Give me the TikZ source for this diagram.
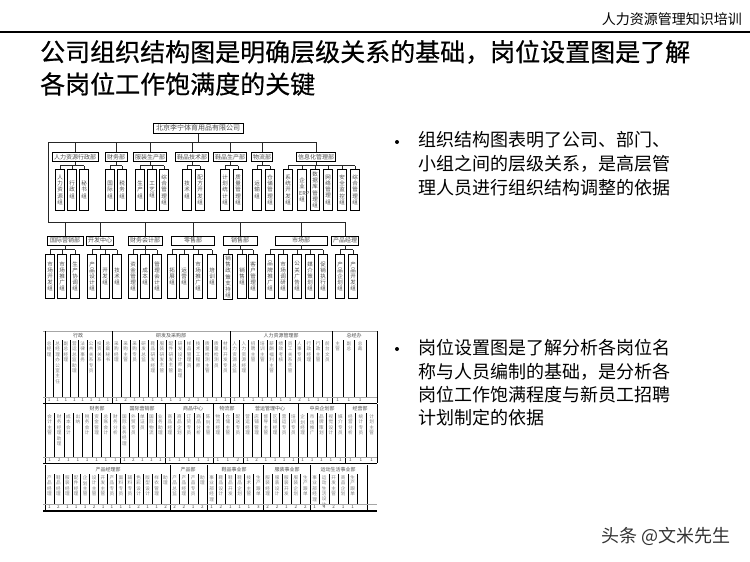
\documentclass[tikz,border=0pt]{standalone}
\usepackage{fontspec}
\setmainfont{Noto Sans CJK SC}
\newfontfamily\titlefont[FakeBold=0.6]{Noto Sans CJK SC}
\XeTeXlinebreaklocale "zh"
\XeTeXlinebreakskip=0pt plus 1pt
\setlength{\parindent}{0pt}
% table group: #1 prefix, #2 x0, #3 x1, #4 ytop, #5 ybot, #6 count, #7 label, #8 list, #9 label x
\newcommand{\tgroup}[9]{%
  \node[thead] (#1h) at (#9,{#4-4.5}) {#7};
  \foreach \ct/\cn [count=\ci from 0] in {#8} {
    \pgfmathsetmacro\cx{#2+(\ci+0.5)*(#3-#2)/#6}
    \pgfmathsetmacro\lx{#2+\ci*(#3-#2)/#6}
    \draw[colline] (\lx,#4) -- (\lx,#5);
    \node[vt] (#1c\ci) at (\cx,{#4+1.5}) {\ct};
    \node[num] (#1n\ci) at (\cx,{#5+3}) {\cn};
  }
  \draw[grpline] (#2,{#4-9}) -- (#2,{#5+6});
}
\begin{document}
\begin{tikzpicture}[x=1pt,y=-1pt,
  every node/.style={inner sep=0pt},
  conn/.style={line width=0.6pt, draw=black!85},
  cbox/.style={draw=black, line width=0.6pt, fill=white, text=black!70, inner sep=1.5pt},
  dept/.style={cbox, anchor=north, font=\fontsize{6}{7}\selectfont, minimum height=9pt},
  subA/.style={cbox, anchor=north, font=\fontsize{5.5}{6.2}\selectfont, text width=5.6pt, align=center, minimum height=41pt},
  subB/.style={subA, minimum height=44pt},
  vt/.style={anchor=north, font=\fontsize{4.6}{5.4}\selectfont, text=black!50, text width=4.8pt, align=center},
  num/.style={font=\fontsize{4.6}{5}\selectfont, text=black!70},
  thead/.style={font=\fontsize{5}{6}\selectfont, text=black!70},
  colline/.style={line width=0.5pt, draw=black},
  grpline/.style={line width=1pt, draw=black},
  hline/.style={line width=0.4pt, draw=black!35},
  rowline/.style={line width=0.6pt, draw=black},
  bodytext/.style={anchor=west, font=\fontsize{18}{22}\selectfont}
]
\useasboundingbox (0,0) rectangle (750,562);

% ---------- header ----------
\node[anchor=east, font=\fontsize{14}{16}\selectfont] (hdr) at (742,19) {人力资源管理知识培训};
\coordinate (ruleL) at (0,32);
\coordinate (ruleR) at (750,32);
\draw[line width=1.2pt] (ruleL) -- (ruleR);

% ---------- title ----------
\node[anchor=west, font=\titlefont\fontsize{25}{30}\selectfont] (title1) at (40,52) {公司组织结构图是明确层级关系的基础，岗位设置图是了解};
\node[anchor=west, font=\titlefont\fontsize{25}{30}\selectfont] (title2) at (40,84) {各岗位工作饱满度的关键};

% ---------- bullets ----------
\fill (397,142) circle (2);
\node[bodytext] (b1l1) at (418,140) {组织结构图表明了公司、部门、};
\node[bodytext] (b1l2) at (418,164) {小组之间的层级关系，是高层管};
\node[bodytext] (b1l3) at (418,188) {理人员进行组织结构调整的依据};

\fill (397,349) circle (2);
\node[bodytext] (b2l1) at (418,348) {岗位设置图是了解分析各岗位名};
\node[bodytext] (b2l2) at (418,372) {称与人员编制的基础，是分析各};
\node[bodytext] (b2l3) at (418,395) {岗位工作饱满程度与新员工招聘};
\node[bodytext] (b2l4) at (418,418) {计划制定的依据};

% ---------- watermark ----------
\node[anchor=west, font=\fontsize{18}{20}\selectfont, text=black!80] (wm) at (601,536) {头条 @文米先生};

% ---------- org chart ----------
\node[cbox, font=\fontsize{7}{8}\selectfont, minimum width=90pt, minimum height=10pt, anchor=north] (co) at (198,123) {北京李宁体育用品有限公司};
\coordinate (busL) at (48,142);
\coordinate (busL2) at (48,222);

% row 1 departments
\node[dept, minimum width=46pt] (d1) at (75,152) {人力资源行政部};
\node[dept, minimum width=22pt] (d2) at (116,152) {财务部};
\node[dept, minimum width=30pt] (d3) at (150,152) {服装生产部};
\node[dept, minimum width=30pt] (d4) at (192,152) {鞋品技术部};
\node[dept, minimum width=30pt] (d5) at (230,152) {鞋品生产部};
\node[dept, minimum width=20pt] (d6) at (262,152) {物流部};
\node[dept, minimum width=38pt] (d7) at (316,152) {信息化管理部};

\draw[conn] (co.south) -- (co.south |- busL);
\draw[conn] (busL) -- (d7.north |- busL);
\foreach \d in {d1,d2,d3,d4,d5,d6,d7} { \draw[conn] (\d.north) -- (\d.north |- busL); }
\draw[conn] (busL) -- (busL2);

% row 1 sub-groups
\foreach \d/\lst in {
  d1/{a/60/人力资源组,b/72/行政组,c/84/秘书组},
  d2/{a/110/国际组,b/122/税务组},
  d3/{a/140/生产组,b/152/工艺组,c/164/综合管理组},
  d4/{a/187/技术组,b/200/配方开发组},
  d5/{a/225/计划统计组,b/238/质量管理组},
  d6/{a/257/运输组,b/270/仓储管理组},
  d7/{a/288/系统开发组,b/302/企业ERP组,c/315/数据库管理组,d/328/网络管理组,e/342/安全监控组,f/355/综合管理组}} {
  \draw[conn] (\d.south) -- (\d.south |- 0,165.5);
  \foreach \s/\x/\txt in \lst {
    \node[subA] (\d\s) at (\x,169) {\txt};
    \draw[conn] (\d\s.north) -- (\d\s.north |- 0,165.5);
  }
}
\draw[conn] (d1a.north |- 0,165.5) -- (d1c.north |- 0,165.5);
\draw[conn] (d2a.north |- 0,165.5) -- (d2b.north |- 0,165.5);
\draw[conn] (d3a.north |- 0,165.5) -- (d3c.north |- 0,165.5);
\draw[conn] (d4a.north |- 0,165.5) -- (d4b.north |- 0,165.5);
\draw[conn] (d5a.north |- 0,165.5) -- (d5b.north |- 0,165.5);
\draw[conn] (d6a.north |- 0,165.5) -- (d6b.north |- 0,165.5);
\draw[conn] (d7a.north |- 0,165.5) -- (d7f.north |- 0,165.5);

% row 2 departments
\node[dept, minimum width=36pt] (r1) at (65,235.5) {国际营销部};
\node[dept, minimum width=24pt] (r2) at (100,235.5) {开发中心};
\node[dept, minimum width=34pt] (r3) at (145,235.5) {财务会计部};
\node[dept, minimum width=43pt] (r4) at (193,235.5) {零售部};
\node[dept, minimum width=34pt] (r5) at (240,235.5) {销售部};
\node[dept, minimum width=52pt] (r6) at (301,235.5) {市场部};
\node[dept, minimum width=26pt] (r7) at (345,235.5) {产品经理};

\draw[conn] (busL2) -- (r7.north |- busL2);
\foreach \d in {r1,r2,r3,r4,r5,r6,r7} { \draw[conn] (\d.north) -- (\d.north |- busL2); }

\foreach \d/\lst in {
  r1/{a/50/市场开发组,b/62/市场推广组,c/75/生产协调组},
  r2/{a/92/产品设计组,b/105/开发组,c/117/技术组},
  r3/{a/133/资金管理组,b/145/成本组,c/157/管理会计组},
  r4/{a/172/拓展组,b/184/运营组,c/198/市场推广组,d/212/培训组},
  r5/{a/228/销售政策支持组,b/242/销售组,c/253/客户管理组},
  r6/{a/270/品牌推广组,b/283/市场调研组,c/297/公关广告组,d/310/媒介策划组,e/323/促销执行组},
  r7/{a/340/产品企划组,b/353/产品开发组}} {
  \draw[conn] (\d.south) -- (\d.south |- 0,249.5);
  \foreach \s/\x/\txt in \lst {
    \node[subB] (\d\s) at (\x,254) {\txt};
    \draw[conn] (\d\s.north) -- (\d\s.north |- 0,249.5);
  }
}
\draw[conn] (r1a.north |- 0,249.5) -- (r1c.north |- 0,249.5);
\draw[conn] (r2a.north |- 0,249.5) -- (r2c.north |- 0,249.5);
\draw[conn] (r3a.north |- 0,249.5) -- (r3c.north |- 0,249.5);
\draw[conn] (r4a.north |- 0,249.5) -- (r4d.north |- 0,249.5);
\draw[conn] (r5a.north |- 0,249.5) -- (r5c.north |- 0,249.5);
\draw[conn] (r6a.north |- 0,249.5) -- (r6e.north |- 0,249.5);
\draw[conn] (r7a.north |- 0,249.5) -- (r7b.north |- 0,249.5);

% ---------- position table ----------
% band 1
\draw[hline] (43,331) -- (377,331);
\tgroup{aA}{45}{112}{340}{397}{8}{行政}{总经理/1,总经理办公室主任/1,副总经理/1,营运总监助理/1,法律事务/1,公共关系专员/1,投资关系/1,总裁秘书/1}{78}
\tgroup{aB}{112}{230}{340}{397}{13}{研发及采购部}{采购经理/1,采购主管/2,采购专员/1,研发总监/1,鞋品研发经理/1,服装研发主管/1,配件研发主管/1,研发设计师助理/1,样品管理员/2,技术工程师/1,质量检测主管/1,质量检测员/1,材料开发专员/1}{171}
\tgroup{aC}{230}{332}{340}{397}{11}{人力资源管理部}{人力资源总监/1,人力资源经理/1,招聘主管/1,培训主管/1,薪酬福利主管/1,绩效考核/1,员工关系主管/1,人事专员/2,行政经理/1,行政主管/1,前台文员/1}{281}
\tgroup{aD}{332}{377}{340}{397}{4}{总经办}{主管/1,副总/1,总裁/1,/}{354}
\draw[grpline] (377,331) -- (377,403);
\draw[hline] (43,397) -- (377,397);
\draw[rowline] (43,403) -- (377,403);

% band 2
\tgroup{bA}{45}{120}{413}{457}{8}{财务部}{会计主管/1,财务经理助理/2,成本会计/1,出纳/1,税务会计/1,资金管理/1,总账会计/1,财务分析/1}{97}
\tgroup{bB}{120}{165}{413}{457}{5}{国际营销部}{国际业务经理/1,外贸专员/2,单证员/1,国际物流/1,业务助理/1}{142}
\tgroup{bC}{165}{213}{413}{457}{5}{商品中心}{商品经理/1,商品企划/1,订货专员/1,商品分析/1,陈列主管/1}{193}
\tgroup{bD}{213}{243}{413}{457}{3}{物流部}{物流经理/1,仓储主管/1,配送专员/2}{227}
\tgroup{bE}{243}{298}{413}{457}{6}{营运管理中心}{营运经理/1,店铺管理/2,督导主管/1,区域经理/1,营运专员/1,培训专员/1}{270}
\tgroup{bF}{298}{345}{413}{457}{5}{中央企划部}{企划经理/1,市场推广/1,品牌策划/1,视觉设计/1,媒介专员/1}{322}
\tgroup{bG}{345}{377}{413}{457}{3}{经营部}{经营分析/1,统计专员/1,计划主管/1}{360}
\draw[grpline] (377,404) -- (377,463);
\draw[hline] (43,457) -- (377,457);
\draw[rowline] (43,463) -- (377,463);

% band 3
\tgroup{cA}{45}{170}{474}{504}{14}{产品经理部}{产品经理/1,鞋品经理/2,服装经理/1,配件经理/1,企划主管/1,设计主管/2,开发主管/1,产品专员/1,面料专员/1,辅料专员/1,色彩设计/2,版型设计/1,样衣管理/1,助理/2}{108}
\tgroup{cB}{170}{207}{474}{504}{4}{产品部}{产品总监/2,产品经理/2,产品专员/1,助理/2}{188}
\tgroup{cC}{207}{263}{474}{504}{6}{鞋品事业部}{事业部经理/1,鞋品设计/2,鞋品开发/1,鞋品企划/1,技术主管/1,生产跟单/3}{234}
\tgroup{cD}{263}{310}{474}{504}{5}{服装事业部}{服装经理/2,服装设计/2,服装开发/1,服装企划/2,生产跟单/2}{287}
\tgroup{cE}{310}{367}{474}{504}{6}{运动生活事业部}{事业部经理/1,运动生活设计/4,开发主管/2,商品企划/1,生产跟单/1,/}{338}
\draw[grpline] (367,465) -- (367,510);
\draw[hline] (43,504) -- (377,504);
\draw[line width=1.2pt] (43,511) -- (377,511);
\end{tikzpicture}
\end{document}
